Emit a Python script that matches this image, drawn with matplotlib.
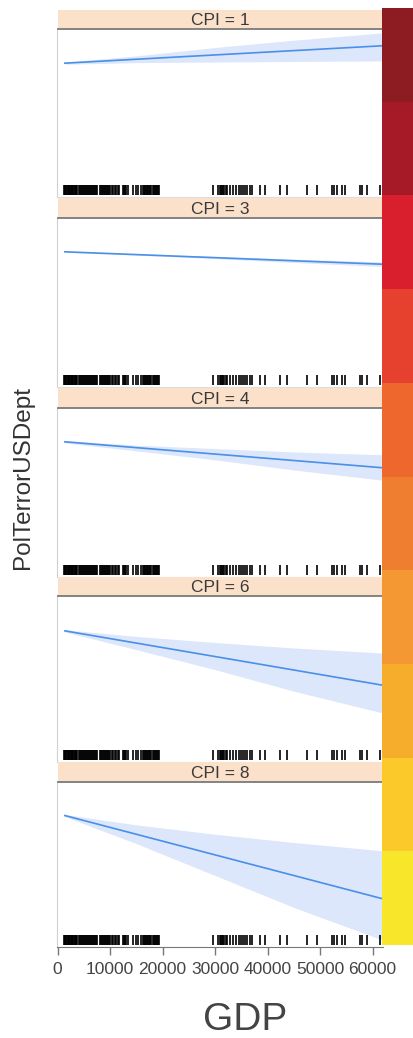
import numpy as np
import matplotlib
matplotlib.use("Agg")
import matplotlib.pyplot as plt
from matplotlib.colors import ListedColormap
import matplotlib.colorbar as mcolorbar

plt.rcParams['font.family'] = ['Liberation Sans', 'DejaVu Sans']

# ---- data ----
cpi_levels = [1, 3, 4, 6, 8]
gdp_grid = [1400, 15000, 30000, 45000, 61800]

fit = {
    1: [3.39, 3.46, 3.54, 3.61, 3.70],
    3: [3.40, 3.35, 3.30, 3.24, 3.18],
    4: [3.40, 3.29, 3.18, 3.06, 2.94],
    6: [3.37, 3.15, 2.91, 2.67, 2.39],
    8: [3.39, 3.05, 2.68, 2.30, 1.88],
}
lower = {
    1: [3.37, 3.40, 3.41, 3.42, 3.43],
    3: [3.39, 3.34, 3.28, 3.21, 3.14],
    4: [3.38, 3.24, 3.08, 2.90, 2.72],
    6: [3.35, 3.03, 2.67, 2.28, 1.89],
    8: [3.37, 2.88, 2.30, 1.72, 1.13],
}
upper = {
    1: [3.41, 3.52, 3.67, 3.80, 3.93],
    3: [3.41, 3.36, 3.32, 3.27, 3.22],
    4: [3.42, 3.34, 3.28, 3.22, 3.17],
    6: [3.39, 3.27, 3.16, 3.06, 2.97],
    8: [3.41, 3.22, 3.05, 2.90, 2.75],
}

# GDP values of the rug (same observations in every panel)
gdp_rug = [1200, 1350, 1500, 1650, 1800, 1950, 2100, 2250, 2400, 2550, 2700,
           2850, 3000, 3150, 3300, 3450, 3600, 3800, 4000, 4200, 4400, 4600,
           4800, 5000, 5200, 5400, 5600, 5800, 6000, 6200, 6400, 6600, 6800,
           7000, 7200, 7400, 7600, 8000, 8200, 8400, 8600, 8800, 9000, 9200,
           9400, 9600, 9800, 10000, 10300, 10600, 10900, 11200, 11500, 11800,
           12500, 12700, 12900, 13100, 13400, 14400, 14900, 15400, 15900,
           16300, 16500, 16700, 16900, 17100, 17300, 17500, 17700, 17900,
           18100, 18300, 18500, 18700, 18900, 19100, 19300,
           29600, 30600, 31000, 31200, 31400, 31600, 31800, 32000, 32200,
           32800, 33400, 34000, 34500, 34900, 35300, 35700, 36100, 36600,
           37100, 38600, 39500, 42400, 43700, 47500, 49400, 52300, 52700,
           53200, 54200, 54800, 57600, 58000, 58900, 61400]

xticks = [0, 10000, 20000, 30000, 40000, 50000, 60000]

# colour key, top to bottom
key_colors = ['#8C1B22', '#A61A28', '#D91F2D', '#E6402F', '#EE682E',
              '#EF7E30', '#F39832', '#F6AD2C', '#FBC92A', '#F8E62B']

# ---- layout (pixels) ----
W, H = 413, 1038
fig = plt.figure(figsize=(W / 100, H / 100), dpi=100)


def px_axes(left, top, right, bottom, **kw):
    return fig.add_axes([left / W, 1 - bottom / H, (right - left) / W, (bottom - top) / H], **kw)


panel_px = [(29, 197), (218, 387), (408, 577), (596, 762), (782, 947)]
strip_px = [(10, 29), (198, 218), (388, 408), (577, 596), (762, 782)]

line_col = '#4A8FE8'
band_col = '#DCE7FB'

for i, cpi in enumerate(cpi_levels):
    top, bot = panel_px[i]
    ax = px_axes(57, top, 383, bot)
    ax.fill_between(gdp_grid, lower[cpi], upper[cpi], color=band_col, lw=0)
    ax.plot([gdp_grid[0], gdp_grid[-1]], [fit[cpi][0], fit[cpi][-1]], color=line_col, lw=1.2)
    ax.vlines(gdp_rug, 0.012, 0.07, transform=ax.get_xaxis_transform(), color='black', lw=1.2)
    ax.set_xlim(-100, 62000)
    ax.set_ylim(1, 4)
    ax.set_yticks([])
    for s in ['right', 'top']:
        ax.spines[s].set_visible(False)
    ax.spines['left'].set_color('#D0D0D0')
    ax.spines['left'].set_linewidth(0.8)
    if i < len(cpi_levels) - 1:
        ax.set_xticks([])
        ax.spines['bottom'].set_color('#DDDDDD')
        ax.spines['bottom'].set_linewidth(0.8)
    else:
        ax.set_xticks(xticks)
        ax.set_xticklabels([str(t) for t in xticks])
        ax.spines['bottom'].set_color('#777777')
        ax.tick_params(axis='x', direction='out', length=6, width=1, colors='#777777',
                       labelcolor='#444444', labelsize=12.5, pad=5)

    # strip
    stop, sbot = strip_px[i]
    sax = px_axes(58, stop, 383, sbot)
    sax.set_facecolor('#FCE1CA')
    sax.set_xticks([])
    sax.set_yticks([])
    for s in ['left', 'right', 'top']:
        sax.spines[s].set_visible(False)
    sax.spines['bottom'].set_color('#7A7A7A')
    sax.spines['bottom'].set_linewidth(1.3)
    sax.text(0.5, 0.45, f'CPI = {cpi}', ha='center', va='center', fontsize=12.5,
             color='#3A3A3A', transform=sax.transAxes)

# colour key on the right
cax = px_axes(382, 8, 413, 945)
cax.set_zorder(10)
cb = mcolorbar.ColorbarBase(cax, cmap=ListedColormap(key_colors[::-1]), orientation='vertical')
cb.set_ticks([])
cb.outline.set_visible(False)

fig.text(23 / W, 1 - 477 / H, 'PolTerrorUSDept', rotation=90, ha='center', va='center',
         fontsize=17.5, color='#333333')
fig.text(245 / W, 1 - 1020 / H, 'GDP', ha='center', va='center', fontsize=28, color='#444444')

fig.savefig('out.png', dpi=100, facecolor='white')
